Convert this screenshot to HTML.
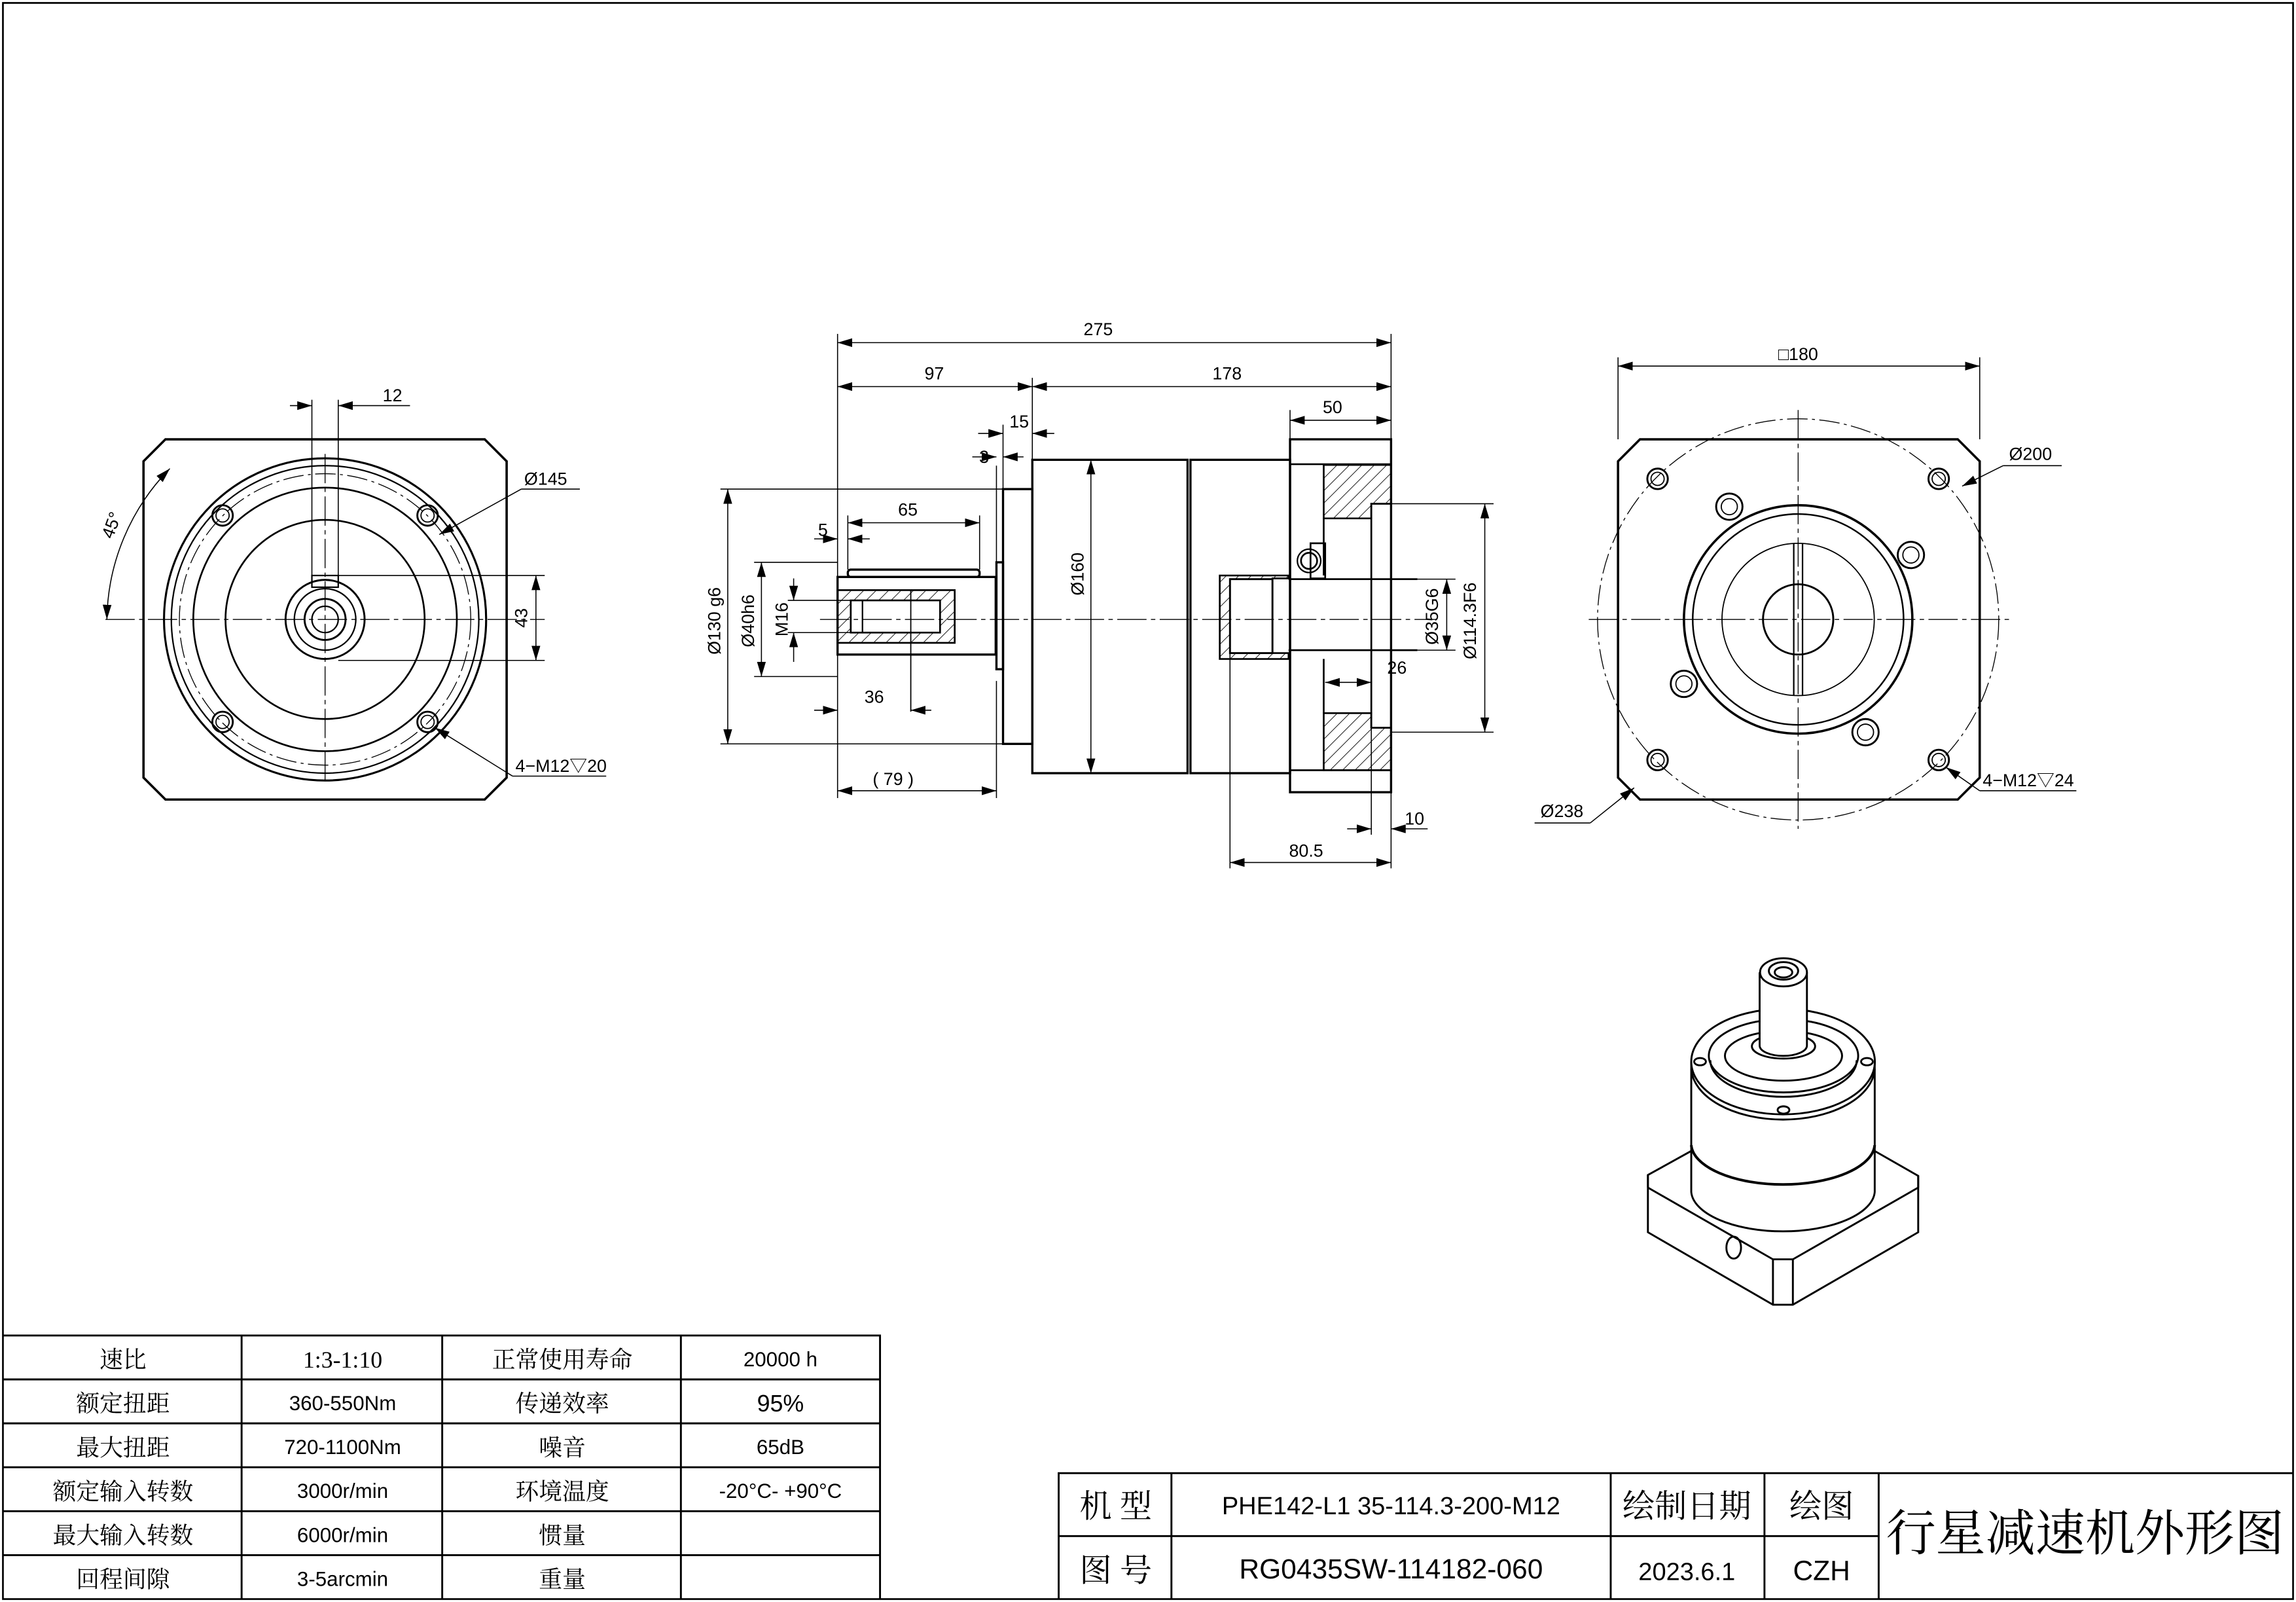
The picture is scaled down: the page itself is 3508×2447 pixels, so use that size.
<!DOCTYPE html>
<html><head><meta charset="utf-8"><style>
html,body{margin:0;padding:0;background:#fff}
svg{display:block}
text{font-family:"Liberation Sans Narrow","Liberation Sans","Noto Sans CJK SC",sans-serif;fill:#000}
.c{font-family:"Liberation Serif","Noto Serif CJK SC",serif}
</style></head><body>
<svg width="3508" height="2447" viewBox="0 0 1568 1094" preserveAspectRatio="none" xmlns="http://www.w3.org/2000/svg">
<defs>
<marker id="a" viewBox="0 0 10 6" refX="10" refY="3" markerWidth="10" markerHeight="6" markerUnits="userSpaceOnUse" orient="auto-start-reverse"><path d="M0,0L10,3L0,6z" fill="#000"/></marker>
<pattern id="h" width="6" height="6" patternUnits="userSpaceOnUse" patternTransform="rotate(45)"><line x1="0" y1="0" x2="0" y2="6" stroke="#000" stroke-width="0.8"/></pattern>
</defs>
<rect x="2" y="2" width="1564" height="1090" fill="none" stroke="#000" stroke-width="1.2"/>
<g fill="none" stroke="#000" stroke-width="1">

<!-- LEFT VIEW -->
<path d="M113,300H331L346,315V531L331,546H113L98,531V315Z" stroke-width="1.6"/>
<circle cx="222" cy="423" r="110" stroke-width="1.4"/>
<circle cx="222" cy="423" r="105"/>
<circle cx="222" cy="423" r="99.5" stroke-width="0.6" stroke-dasharray="14 3 2 3"/>
<circle cx="222" cy="423" r="90" stroke-width="1.2"/>
<circle cx="222" cy="423" r="68" stroke-width="1.2"/>
<circle cx="222" cy="423" r="27" stroke-width="1.3"/>
<circle cx="222" cy="423" r="21"/>
<circle cx="222" cy="423" r="14" stroke-width="1.3"/>
<circle cx="222" cy="423" r="9"/>
<g stroke-width="1.3"><circle cx="152" cy="352" r="7"/><circle cx="292" cy="352" r="7"/><circle cx="152" cy="493" r="7"/><circle cx="292" cy="493" r="7"/></g>
<g stroke-width="0.8"><circle cx="152" cy="352" r="4.5"/><circle cx="292" cy="352" r="4.5"/><circle cx="152" cy="493" r="4.5"/><circle cx="292" cy="493" r="4.5"/></g>
<rect x="213" y="393" width="18" height="8"/>
<line x1="72" y1="423" x2="372" y2="423" stroke-width="0.6" stroke-dasharray="20 3 3 3"/>
<line x1="222" y1="310" x2="222" y2="536" stroke-width="0.6" stroke-dasharray="20 3 3 3"/>
<line x1="213" y1="273" x2="213" y2="393" stroke-width="0.7"/>
<line x1="231" y1="273" x2="231" y2="393" stroke-width="0.7"/>
<line x1="198" y1="277" x2="213" y2="277" stroke-width="0.7" marker-end="url(#a)"/>
<line x1="231" y1="277" x2="280" y2="277" stroke-width="0.7" marker-start="url(#a)"/>
<line x1="231" y1="393" x2="372" y2="393" stroke-width="0.7"/>
<line x1="231" y1="451" x2="372" y2="451" stroke-width="0.7"/>
<line x1="366" y1="393" x2="366" y2="451" stroke-width="0.7" marker-start="url(#a)" marker-end="url(#a)"/>
<path d="M116,320A150,150 0 0 0 73,423" stroke-width="0.7" marker-start="url(#a)" marker-end="url(#a)"/>
<line x1="300" y1="365" x2="356" y2="334" stroke-width="0.7" marker-start="url(#a)"/>
<line x1="356" y1="334" x2="396" y2="334" stroke-width="0.7"/>
<line x1="297" y1="497" x2="350" y2="530" stroke-width="0.7" marker-start="url(#a)"/>
<line x1="350" y1="530" x2="414" y2="530" stroke-width="0.7"/>

<!-- MIDDLE VIEW -->
<g stroke-width="1.5">
<rect x="572" y="394" width="108" height="53"/>
<rect x="579" y="389" width="90" height="5" rx="2"/>
<rect x="680.5" y="384" width="4.5" height="73"/>
<rect x="685" y="334" width="20" height="174"/>
<rect x="705" y="314" width="106" height="214"/>
<rect x="813" y="314" width="68" height="214"/>
<rect x="881" y="300" width="69" height="241"/>
</g>
<rect x="572" y="403" width="80" height="36" fill="url(#h)" stroke-width="1.2"/>
<rect x="581" y="410" width="61" height="22" fill="#fff" stroke-width="1.2"/>
<line x1="589" y1="410" x2="589" y2="432"/>
<line x1="622" y1="403" x2="622" y2="486" stroke-width="0.8"/>
<line x1="881" y1="317" x2="950" y2="317" stroke-width="1.2"/>
<line x1="881" y1="526" x2="950" y2="526" stroke-width="1.2"/>
<path d="M904,317.5H950V344H936.5V354H904Z" fill="url(#h)" stroke-width="1.2"/>
<path d="M904,487H936.5V497H950V526H904Z" fill="url(#h)" stroke-width="1.2"/>
<rect x="936.5" y="344" width="13.5" height="153" stroke-width="1.2"/>
<line x1="904" y1="354" x2="904" y2="393" stroke-width="1.2"/>
<line x1="904" y1="450" x2="904" y2="487" stroke-width="1.2"/>
<rect x="895" y="371" width="10" height="24" stroke-width="1.2"/>
<circle cx="894" cy="383" r="5.5" stroke-width="1.2"/><circle cx="894" cy="383" r="8" stroke-width="1"/>
<path d="M833,393H880V395H869V446H880V450H833Z" fill="url(#h)" stroke-width="1.2"/>
<rect x="840" y="395.5" width="29" height="50.5" fill="#fff" stroke-width="1.3"/>
<line x1="880" y1="395.5" x2="968" y2="395.5" stroke-width="1.2"/>
<line x1="880" y1="444" x2="968" y2="444" stroke-width="1.2"/>
<line x1="560" y1="423" x2="980" y2="423" stroke-width="0.6" stroke-dasharray="20 3 3 3"/>
<g stroke-width="0.7">
<line x1="572" y1="228" x2="572" y2="545"/><line x1="950" y1="228" x2="950" y2="300"/>
<line x1="572" y1="234" x2="950" y2="234" marker-start="url(#a)" marker-end="url(#a)"/>
<line x1="705" y1="258" x2="705" y2="314"/>
<line x1="572" y1="264" x2="705" y2="264" marker-start="url(#a)" marker-end="url(#a)"/>
<line x1="705" y1="264" x2="950" y2="264" marker-start="url(#a)" marker-end="url(#a)"/>
<line x1="685" y1="290" x2="685" y2="334"/>
<line x1="668" y1="296" x2="685" y2="296" marker-end="url(#a)"/><line x1="705" y1="296" x2="720" y2="296" marker-start="url(#a)"/>
<line x1="680.5" y1="318" x2="680.5" y2="384"/>
<line x1="664" y1="312" x2="680.5" y2="312" marker-end="url(#a)"/><line x1="685" y1="312" x2="699" y2="312" marker-start="url(#a)"/>
<line x1="881" y1="280" x2="881" y2="300"/>
<line x1="881" y1="287" x2="950" y2="287" marker-start="url(#a)" marker-end="url(#a)"/>
<line x1="579" y1="352" x2="579" y2="389"/><line x1="669" y1="352" x2="669" y2="389"/>
<line x1="579" y1="357" x2="669" y2="357" marker-start="url(#a)" marker-end="url(#a)"/>
<line x1="556" y1="368" x2="572" y2="368" marker-end="url(#a)"/><line x1="579" y1="368" x2="594" y2="368" marker-start="url(#a)"/>
<line x1="556" y1="485" x2="572" y2="485" marker-end="url(#a)"/><line x1="622" y1="485" x2="636" y2="485" marker-start="url(#a)"/>
<line x1="680.5" y1="465" x2="680.5" y2="545"/>
<line x1="572" y1="540" x2="680.5" y2="540" marker-start="url(#a)" marker-end="url(#a)"/>
<line x1="492" y1="334" x2="685" y2="334"/><line x1="492" y1="508" x2="685" y2="508"/>
<line x1="497" y1="334" x2="497" y2="508" marker-start="url(#a)" marker-end="url(#a)"/>
<line x1="515" y1="384" x2="572" y2="384"/><line x1="515" y1="462" x2="572" y2="462"/>
<line x1="520" y1="384" x2="520" y2="462" marker-start="url(#a)" marker-end="url(#a)"/>
<line x1="538" y1="410" x2="581" y2="410"/><line x1="538" y1="432" x2="581" y2="432"/>
<line x1="542" y1="395" x2="542" y2="410" marker-end="url(#a)"/><line x1="542" y1="432" x2="542" y2="452" marker-start="url(#a)"/>
<line x1="745" y1="314" x2="745" y2="528" marker-start="url(#a)" marker-end="url(#a)"/>
<line x1="968" y1="395.5" x2="994" y2="395.5"/><line x1="968" y1="444" x2="994" y2="444"/>
<line x1="988" y1="395.5" x2="988" y2="444" marker-start="url(#a)" marker-end="url(#a)"/>
<line x1="950" y1="344" x2="1020" y2="344"/><line x1="950" y1="500" x2="1020" y2="500"/>
<line x1="1014" y1="344" x2="1014" y2="500" marker-start="url(#a)" marker-end="url(#a)"/>
<line x1="905" y1="466" x2="936.5" y2="466" marker-start="url(#a)" marker-end="url(#a)"/>
<line x1="840" y1="446" x2="840" y2="593"/><line x1="950" y1="541" x2="950" y2="593"/>
<line x1="840" y1="589" x2="950" y2="589" marker-start="url(#a)" marker-end="url(#a)"/>
<line x1="936.5" y1="497" x2="936.5" y2="570"/>
<line x1="920" y1="566" x2="936.5" y2="566" marker-end="url(#a)"/><line x1="950" y1="566" x2="975" y2="566" marker-start="url(#a)"/>
</g>

<!-- RIGHT VIEW -->
<path d="M1120,300H1337L1352,315V531L1337,546H1120L1105,531V315Z" stroke-width="1.6"/>
<circle cx="1228" cy="423" r="137" stroke-width="0.6" stroke-dasharray="14 3 2 3"/>
<circle cx="1228" cy="423" r="78" stroke-width="1.6"/>
<circle cx="1228" cy="423" r="72" stroke-width="1.1"/>
<circle cx="1228" cy="423" r="52" stroke-width="0.8"/>
<circle cx="1228" cy="423" r="24" stroke-width="1.3"/>
<line x1="1225" y1="371" x2="1225" y2="475"/><line x1="1231" y1="371" x2="1231" y2="475"/>
<g stroke-width="1.3"><circle cx="1132" cy="327" r="7"/><circle cx="1324" cy="327" r="7"/><circle cx="1132" cy="519" r="7"/><circle cx="1324" cy="519" r="7"/>
<circle cx="1181" cy="346" r="9"/><circle cx="1305" cy="379" r="9"/><circle cx="1150" cy="467" r="9"/><circle cx="1274" cy="500" r="9"/></g>
<g stroke-width="0.8"><circle cx="1132" cy="327" r="4.5"/><circle cx="1324" cy="327" r="4.5"/><circle cx="1132" cy="519" r="4.5"/><circle cx="1324" cy="519" r="4.5"/>
<circle cx="1181" cy="346" r="5.5"/><circle cx="1305" cy="379" r="5.5"/><circle cx="1150" cy="467" r="5.5"/><circle cx="1274" cy="500" r="5.5"/></g>
<line x1="1085" y1="423" x2="1372" y2="423" stroke-width="0.6" stroke-dasharray="20 3 3 3"/>
<line x1="1228" y1="280" x2="1228" y2="566" stroke-width="0.6" stroke-dasharray="20 3 3 3"/>
<g stroke-width="0.7">
<line x1="1105" y1="244" x2="1105" y2="300"/><line x1="1352" y1="244" x2="1352" y2="300"/>
<line x1="1105" y1="250" x2="1352" y2="250" marker-start="url(#a)" marker-end="url(#a)"/>
<line x1="1340" y1="332" x2="1368" y2="318" marker-start="url(#a)"/><line x1="1368" y1="318" x2="1408" y2="318"/>
<line x1="1329" y1="524" x2="1352" y2="540" marker-start="url(#a)"/><line x1="1352" y1="540" x2="1418" y2="540"/>
<line x1="1116" y1="538" x2="1086" y2="562" marker-start="url(#a)"/><line x1="1086" y1="562" x2="1048" y2="562"/>
</g>

<!-- ISO VIEW -->
<g stroke-width="1.3">
<path d="M1155,786L1125.4,802.4V841.5L1210.8,891H1224.4L1310,841.5V803L1280.3,786"/>
<path d="M1125.4,811L1210.8,860H1224.4L1310,811"/>
<line x1="1125.4" y1="802.4" x2="1125.4" y2="811"/><line x1="1310" y1="803" x2="1310" y2="811"/>
<line x1="1210.8" y1="860" x2="1210.8" y2="891"/><line x1="1224.4" y1="860" x2="1224.4" y2="891"/>
<ellipse cx="1184" cy="852" rx="5" ry="7.5"/>
<path d="M1155,725V814A62.7,28 0 0 0 1280.3,814V725" fill="#fff"/>
<path d="M1155,782A62.7,28 0 0 0 1280.3,782" stroke-width="1.8"/>
<ellipse cx="1217.7" cy="725" rx="62.7" ry="36"/>
<path d="M1155,730A62.7,36 0 0 0 1280.3,730" />
<ellipse cx="1218" cy="721" rx="51" ry="25"/>
<path d="M1168,724A50,25 0 0 0 1268,724"/>
<ellipse cx="1218" cy="721" rx="40" ry="17"/>
<ellipse cx="1218" cy="714.5" rx="21.6" ry="8.4" fill="#fff"/>
<path d="M1201.7,664V714A16,7 0 0 0 1234,714V664" fill="#fff"/>
<ellipse cx="1218" cy="664" rx="16" ry="9.6" fill="#fff"/>
<ellipse cx="1218" cy="663" rx="10" ry="6"/>
<ellipse cx="1218" cy="664" rx="6" ry="3.5"/>
<ellipse cx="1161" cy="725" rx="4" ry="2.5"/><ellipse cx="1275" cy="725" rx="4" ry="2.5"/><ellipse cx="1218" cy="758" rx="4" ry="2.5"/>
</g>

<!-- TABLES -->
<g stroke-width="1.3">
<path d="M2,912H601V1092M2,942H601M2,972H601M2,1002H601M2,1032H601M2,1062H601M165,912V1092M302,912V1092M465,912V1092"/>
<path d="M723,1092V1006H1566M723,1049H1283M800,1006V1092M1100,1006V1092M1205,1006V1092M1283,1006V1092"/>
</g>
</g>

<g font-size="12">
<text x="268" y="274" text-anchor="middle">12</text>
<text x="360" y="422" text-anchor="middle" transform="rotate(-90 360 422)">43</text>
<text x="80" y="360" text-anchor="middle" transform="rotate(-70 80 360)">45°</text>
<text x="358" y="331">Ø145</text>
<text x="352" y="527">4−M12▽20</text>
<text x="750" y="229" text-anchor="middle">275</text>
<text x="638" y="259" text-anchor="middle">97</text>
<text x="838" y="259" text-anchor="middle">178</text>
<text x="696" y="292" text-anchor="middle">15</text>
<text x="672" y="316" text-anchor="middle">3</text>
<text x="910" y="282" text-anchor="middle">50</text>
<text x="620" y="352" text-anchor="middle">65</text>
<text x="562" y="366" text-anchor="middle">5</text>
<text x="597" y="480" text-anchor="middle">36</text>
<text x="610" y="536" text-anchor="middle">( 79 )</text>
<text x="892" y="585" text-anchor="middle">80.5</text>
<text x="966" y="563" text-anchor="middle">10</text>
<text x="954" y="460" text-anchor="middle">26</text>
<text x="492" y="424" text-anchor="middle" transform="rotate(-90 492 424)">Ø130 g6</text>
<text x="515" y="424" text-anchor="middle" transform="rotate(-90 515 424)">Ø40h6</text>
<text x="538" y="423" text-anchor="middle" transform="rotate(-90 538 423)">M16</text>
<text x="740" y="392" text-anchor="middle" transform="rotate(-90 740 392)">Ø160</text>
<text x="982" y="421" text-anchor="middle" transform="rotate(-90 982 421)">Ø35G6</text>
<text x="1008" y="424" text-anchor="middle" transform="rotate(-90 1008 424)">Ø114.3F6</text>
<text x="1228" y="246" text-anchor="middle">□180</text>
<text x="1372" y="314">Ø200</text>
<text x="1354" y="537">4−M12▽24</text>
<text x="1052" y="558">Ø238</text>
</g>

<g font-size="16" text-anchor="middle">
<text x="84" y="934" class="c">速比</text><text x="234" y="934" class="c">1:3-1:10</text><text x="384" y="934" class="c">正常使用寿命</text><text x="533" y="933" font-size="14">20000 h</text>
<text x="84" y="964" class="c">额定扭距</text><text x="234" y="963" font-size="14">360-550Nm</text><text x="384" y="964" class="c">传递效率</text><text x="533" y="964">95%</text>
<text x="84" y="994" class="c">最大扭距</text><text x="234" y="993" font-size="14">720-1100Nm</text><text x="384" y="994" class="c">噪音</text><text x="533" y="993" font-size="14">65dB</text>
<text x="84" y="1024" class="c">额定输入转数</text><text x="234" y="1023" font-size="14">3000r/min</text><text x="384" y="1024" class="c">环境温度</text><text x="533" y="1023" font-size="14">-20°C- +90°C</text>
<text x="84" y="1054" class="c">最大输入转数</text><text x="234" y="1053" font-size="14">6000r/min</text><text x="384" y="1054" class="c">惯量</text>
<text x="84" y="1084" class="c">回程间隙</text><text x="234" y="1083" font-size="14">3-5arcmin</text><text x="384" y="1084" class="c">重量</text>
<text x="762" y="1036" font-size="22" class="c">机 型</text><text x="950" y="1034" font-size="17">PHE142-L1 35-114.3-200-M12</text>
<text x="1152" y="1036" font-size="22" class="c">绘制日期</text><text x="1244" y="1036" font-size="22" class="c">绘图</text>
<text x="762" y="1080" font-size="22" class="c">图 号</text><text x="950" y="1078" font-size="19">RG0435SW-114182-060</text>
<text x="1152" y="1079" font-size="17">2023.6.1</text><text x="1244" y="1079" font-size="19">CZH</text>
<text x="1424" y="1059" font-size="34" class="c">行星减速机外形图</text>
</g>
</svg>
</body></html>
